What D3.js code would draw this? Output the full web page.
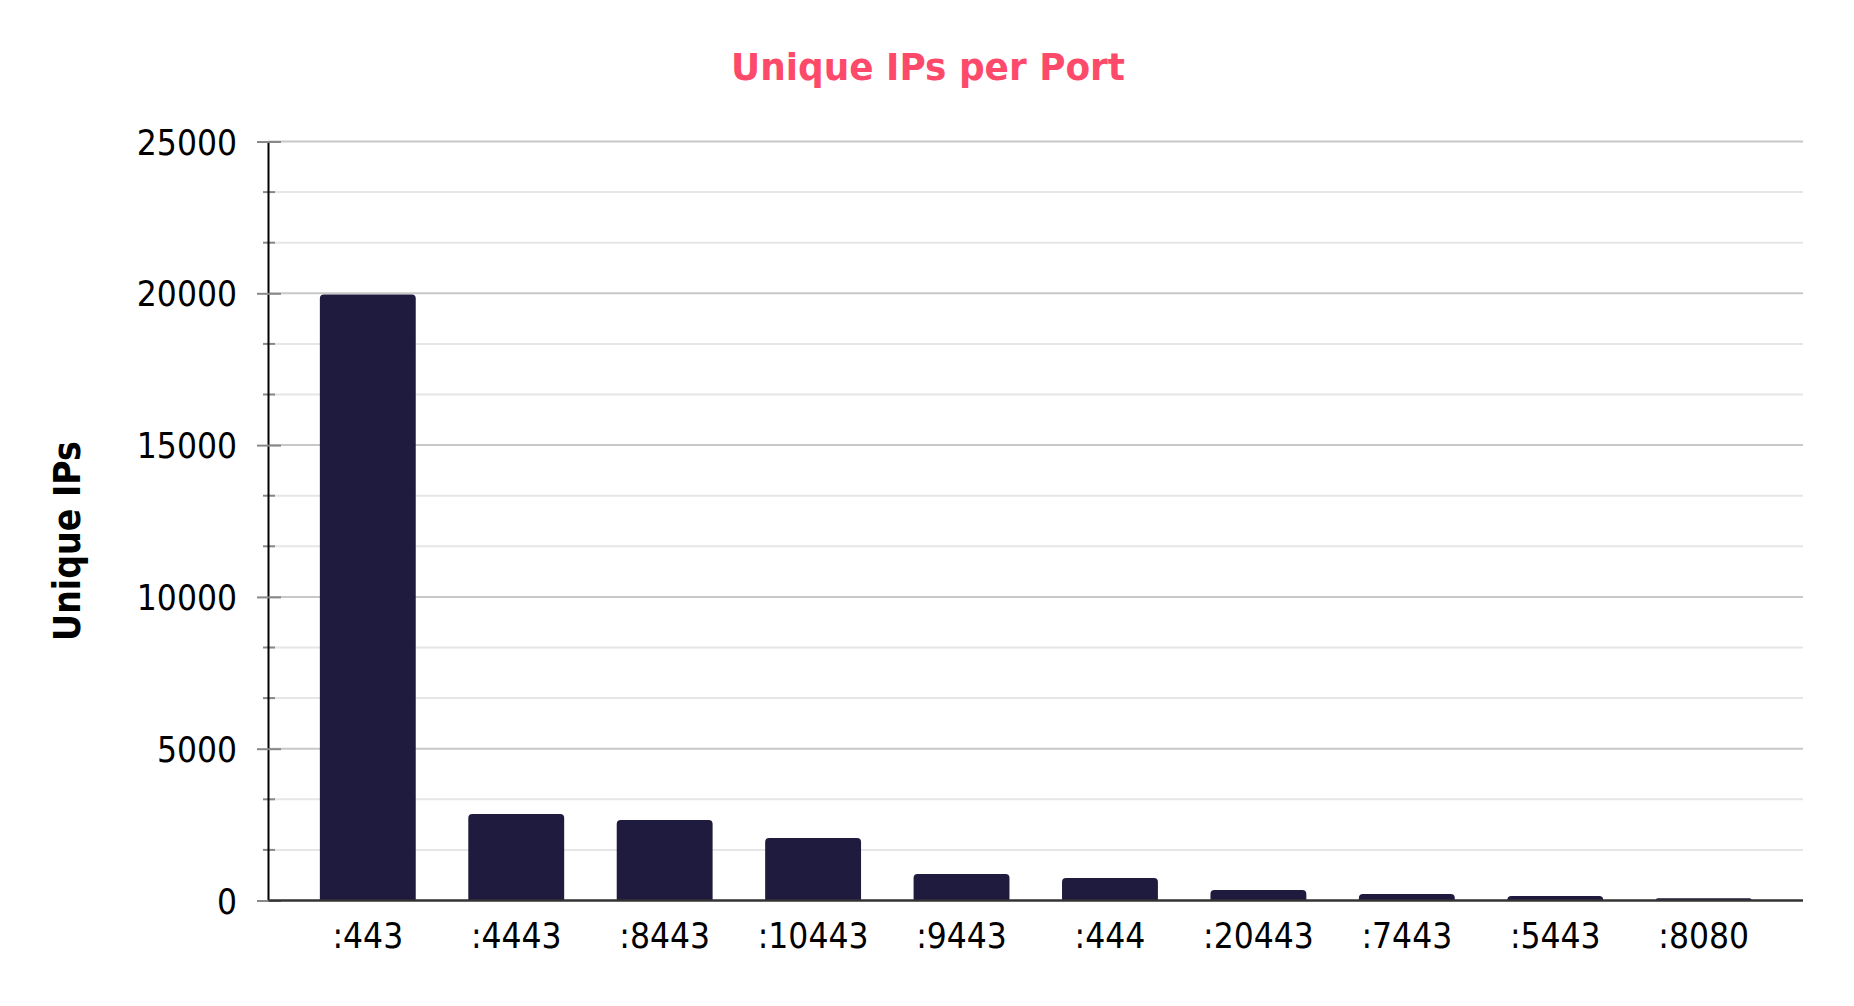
<!DOCTYPE html>
<html>
<head>
<meta charset="utf-8">
<script src="https://cdn.jsdelivr.net/npm/d3@7"></script>
<style>
  html, body { margin: 0; padding: 0; background: #ffffff; }
  svg { display: block; }
</style>
</head>
<body>
<svg id="chart" width="1854" height="1006"></svg>
<script>
// ---- data ----
const ports = [":443", ":4443", ":8443", ":10443", ":9443", ":444", ":20443", ":7443", ":5443", ":8080"];
const uniqueIPs = [19960, 2850, 2650, 2060, 870, 740, 345, 214, 148, 72];
const yTicks = [0, 5000, 10000, 15000, 20000, 25000];
const chartTitle = "Unique IPs per Port";
const yTitle = "Unique IPs";

(function () {
// ---- layout ----
const plotLeft = 268.5, plotRight = 1803, plotTop = 141.5, plotBottom = 900.5;
const font = "'DejaVu Sans Condensed', 'DejaVu Sans', sans-serif";

const svg = d3.select("#chart");

const x = d3.scaleBand().domain(ports).range([plotLeft, plotRight]).paddingInner(0.354).paddingOuter(0.346);
const y = d3.scaleLinear().domain([0, 25000]).range([plotBottom, plotTop]);

// minor gridlines
const minorTicks = d3.range(0, 25001, 5000 / 3).filter(v => yTicks.every(t => Math.abs(t - v) > 1));
svg.append("g").selectAll("line").data(minorTicks).join("line")
  .attr("x1", plotLeft).attr("x2", plotRight)
  .attr("y1", d => y(d)).attr("y2", d => y(d))
  .attr("stroke", "#e6e6e6").attr("stroke-width", 2);
svg.append("g").selectAll("line").data(minorTicks).join("line")
  .attr("x1", plotLeft - 5.5).attr("x2", plotLeft + 6.5)
  .attr("y1", d => y(d)).attr("y2", d => y(d))
  .attr("stroke", "#888888").attr("stroke-width", 2);

// major gridlines
svg.append("g").selectAll("line").data(yTicks.filter(t => t > 0)).join("line")
  .attr("x1", plotLeft).attr("x2", plotRight)
  .attr("y1", d => y(d)).attr("y2", d => y(d))
  .attr("stroke", "#c8c8c8").attr("stroke-width", 2);

// bars with rounded top corners
const r = 4;
svg.append("g").selectAll("path").data(ports).join("path")
  .attr("fill", "#1e1b3e")
  .attr("d", (p, i) => {
    const x0 = x(p), x1 = x(p) + x.bandwidth();
    const yt = y(uniqueIPs[i]), yb = y(0);
    const rr = Math.min(r, (yb - yt));
    return `M${x0},${yb} L${x0},${yt + rr} Q${x0},${yt} ${x0 + rr},${yt} L${x1 - rr},${yt} Q${x1},${yt} ${x1},${yt + rr} L${x1},${yb} Z`;
  });

// y axis
const yAxis = d3.axisLeft(y).tickValues(yTicks).tickSize(0).tickPadding(0).tickFormat(d3.format("d"));
const gy = svg.append("g").attr("transform", `translate(${plotLeft},0)`).call(yAxis);
gy.select(".domain").attr("stroke", "#000").attr("stroke-width", 2).attr("d", `M0,${plotTop}V${plotBottom}`);
gy.selectAll(".tick text")
  .attr("x", 237 - plotLeft)
  .attr("dy", "0.36em")
  .attr("fill", "#000")
  .style("font-family", font)
  .style("font-size", "35px");
gy.selectAll(".tick").append("line")
  .attr("x1", -11.5).attr("x2", 12.5)
  .attr("stroke", "#888888").attr("stroke-width", 2);

// x baseline
svg.append("line")
  .attr("x1", plotLeft).attr("x2", plotRight)
  .attr("y1", y(0)).attr("y2", y(0))
  .attr("stroke", "#333333").attr("stroke-width", 2.5);

// x axis labels
const xAxis = d3.axisBottom(x).tickSize(0).tickPadding(0);
const gx = svg.append("g").attr("transform", `translate(0,${plotBottom})`).call(xAxis);
gx.select(".domain").remove();
gx.selectAll(".tick text")
  .attr("y", 948 - plotBottom)
  .attr("dy", 0)
  .attr("fill", "#000")
  .style("font-family", font)
  .style("font-size", "35px");

// title
svg.append("text")
  .attr("x", 928).attr("y", 79.5)
  .attr("text-anchor", "middle")
  .attr("fill", "#fe4a6a")
  .attr("textLength", 394)
  .attr("lengthAdjust", "spacingAndGlyphs")
  .style("font-family", font)
  .style("font-weight", "bold")
  .style("font-size", "38px")
  .text(chartTitle);

// y title
svg.append("text")
  .attr("transform", "translate(80,541) rotate(-90)")
  .attr("text-anchor", "middle")
  .attr("fill", "#000")
  .style("font-family", font)
  .style("font-weight", "bold")
  .style("font-size", "37px")
  .text(yTitle);
})();
</script>
</body>
</html>
